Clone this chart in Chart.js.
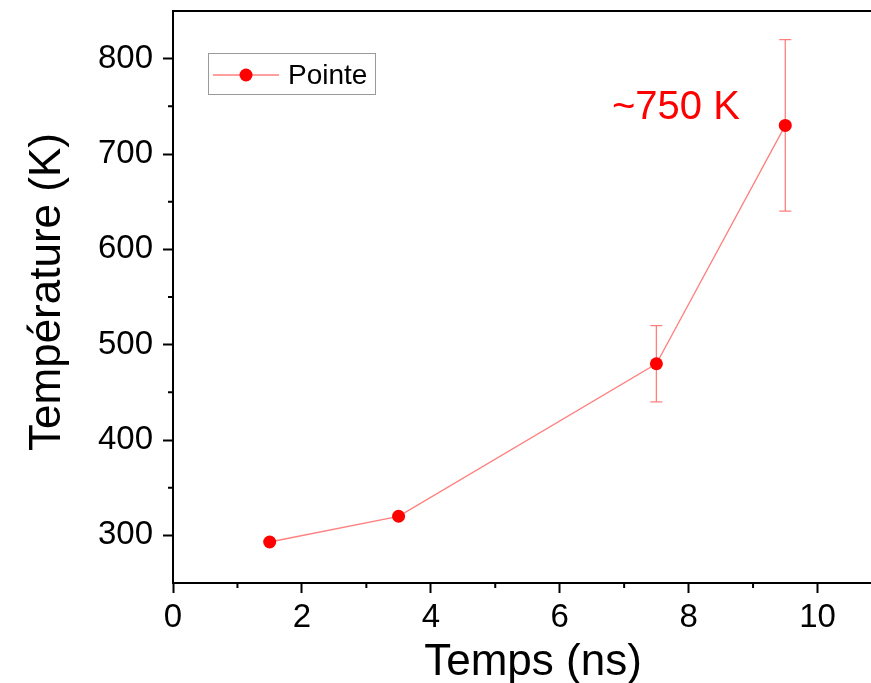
<!DOCTYPE html>
<html>
<head>
<meta charset="utf-8">
<script src="https://cdn.jsdelivr.net/npm/chart.js@4.4.1/dist/chart.umd.min.js"></script>
<style>
  html, body { margin: 0; padding: 0; background: #ffffff; }
  canvas { display: block; }
</style>
</head>
<body>
<canvas id="c" width="871" height="683"></canvas>
<script>
// ---- data ----
const seriesName = 'Pointe';
const timeNs = [1.5, 3.5, 7.5, 9.5];
const temperatureK = [293, 320, 480, 730];
const errorK = [0, 0, 40, 90];
const xMajorTicks = [0, 2, 4, 6, 8, 10];
const xMinorTicks = [1, 3, 5, 7, 9];
const yMajorTicks = [300, 400, 500, 600, 700, 800];
const yMinorTicks = [350, 450, 550, 650, 750];
const annotationText = '~750 K';
const xTitle = 'Temps (ns)';
const yTitle = 'Température (K)';

const FONT = '"Liberation Sans", Arial, sans-serif';
const LINE_COLOR = 'rgba(255,0,0,0.5)';
const POINT_COLOR = '#ff0000';

const points = timeNs.map((t, i) => ({ x: t, y: temperatureK[i] }));

const extrasPlugin = {
  id: 'extras',
  beforeDatasetsDraw(chart) {
    const ctx = chart.ctx;
    const xs = chart.scales.x, ys = chart.scales.y;
    ctx.save();
    ctx.strokeStyle = LINE_COLOR;
    ctx.lineWidth = 1.3;
    timeNs.forEach((t, i) => {
      const e = errorK[i];
      if (!e) return;
      const px = xs.getPixelForValue(t);
      const top = ys.getPixelForValue(temperatureK[i] + e);
      const bot = ys.getPixelForValue(temperatureK[i] - e);
      ctx.beginPath();
      ctx.moveTo(px, top); ctx.lineTo(px, bot);
      ctx.moveTo(px - 6, top); ctx.lineTo(px + 6, top);
      ctx.moveTo(px - 6, bot); ctx.lineTo(px + 6, bot);
      ctx.stroke();
    });
    ctx.restore();
  },
  afterDraw(chart) {
    const ctx = chart.ctx;
    const xs = chart.scales.x, ys = chart.scales.y;
    const ca = chart.chartArea;
    ctx.save();
    // top frame line
    ctx.strokeStyle = '#000';
    ctx.lineWidth = 2;
    ctx.beginPath();
    ctx.moveTo(ca.left - 1, ca.top);
    ctx.lineTo(ca.right, ca.top);
    ctx.stroke();
    // minor ticks
    ctx.beginPath();
    xMinorTicks.forEach(v => {
      const p = xs.getPixelForValue(v);
      ctx.moveTo(p, ca.bottom); ctx.lineTo(p, ca.bottom + 5);
    });
    yMinorTicks.forEach(v => {
      const p = ys.getPixelForValue(v);
      ctx.moveTo(ca.left, p); ctx.lineTo(ca.left - 5, p);
    });
    ctx.stroke();

    // axis titles
    ctx.fillStyle = '#000';
    ctx.font = '44px ' + FONT;
    ctx.textAlign = 'center';
    ctx.textBaseline = 'alphabetic';
    ctx.fillText(xTitle, 533, 675);
    ctx.save();
    ctx.translate(60, 292);
    ctx.rotate(-Math.PI / 2);
    ctx.font = '44px ' + FONT;
    ctx.fillText(yTitle, 0, 0);
    ctx.restore();

    // annotation
    ctx.fillStyle = '#ff0000';
    ctx.font = '40px ' + FONT;
    ctx.textAlign = 'left';
    ctx.fillText(annotationText, 612, 119);

    // legend
    ctx.strokeStyle = '#9a9a9a';
    ctx.lineWidth = 1;
    ctx.strokeRect(208.5, 53.5, 167, 41);
    ctx.strokeStyle = LINE_COLOR;
    ctx.lineWidth = 1.3;
    ctx.beginPath();
    ctx.moveTo(213, 75); ctx.lineTo(279, 75);
    ctx.stroke();
    ctx.fillStyle = POINT_COLOR;
    ctx.beginPath();
    ctx.arc(246, 75, 6.5, 0, Math.PI * 2);
    ctx.fill();
    ctx.fillStyle = '#000';
    ctx.font = '28px ' + FONT;
    ctx.textBaseline = 'alphabetic';
    ctx.fillText(seriesName, 288, 84);
    ctx.restore();
  }
};

new Chart(document.getElementById('c'), {
  type: 'line',
  data: {
    datasets: [{
      label: seriesName,
      data: points,
      borderColor: LINE_COLOR,
      borderWidth: 1.3,
      pointRadius: 6.5,
      pointHoverRadius: 6.5,
      pointBackgroundColor: POINT_COLOR,
      pointBorderWidth: 0,
      pointBorderColor: POINT_COLOR,
      tension: 0,
      fill: false
    }]
  },
  options: {
    responsive: false,
    animation: false,
    events: [],
    layout: { autoPadding: false, padding: { top: 11, right: 0, left: 0, bottom: 0 } },
    plugins: { legend: { display: false }, tooltip: { enabled: false } },
    scales: {
      x: {
        type: 'linear',
        position: 'bottom',
        min: 0,
        max: 10.83,
        afterBuildTicks: s => { s.ticks = xMajorTicks.map(v => ({ value: v })); },
        afterFit: s => { s.height = 100; s.paddingLeft = 0; s.paddingRight = 0; },
        border: { display: true, color: '#000', width: 2 },
        grid: { drawOnChartArea: false, drawTicks: true, tickLength: 10, tickWidth: 2, tickColor: '#000' },
        ticks: { color: '#000', font: { size: 33, family: FONT }, padding: 5, maxRotation: 0, autoSkip: false }
      },
      y: {
        type: 'linear',
        position: 'left',
        min: 250,
        max: 850,
        afterBuildTicks: s => { s.ticks = yMajorTicks.map(v => ({ value: v })); },
        afterFit: s => { s.width = 173; s.paddingTop = 0; s.paddingBottom = 0; },
        border: { display: true, color: '#000', width: 2 },
        grid: { drawOnChartArea: false, drawTicks: true, tickLength: 10, tickWidth: 2, tickColor: '#000' },
        ticks: { color: '#000', font: { size: 33, family: FONT }, padding: 10, autoSkip: false }
      }
    }
  },
  plugins: [extrasPlugin]
});
</script>
</body>
</html>
